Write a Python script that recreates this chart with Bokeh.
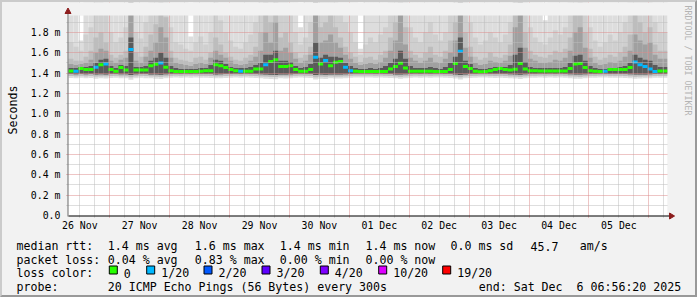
import math
from bokeh.plotting import figure
from bokeh.layouts import column, row
from bokeh.models import ColumnDataSource, Range1d, FixedTicker, Spacer
from bokeh.core.properties import value
from bokeh.embed import file_html
from bokeh.resources import INLINE

# ---------------- data (values in ms) ----------------
# 2-hour columns starting at the left edge of the graph (26 Nov ~07:29)
med = [1.421, 1.418, 1.444, 1.434, 1.434, 1.457, 1.483, 1.490, 1.434, 1.418,
       1.454, 1.431, 1.631, 1.431, 1.431, 1.431, 1.473, 1.486, 1.500, 1.457,
       1.424, 1.415, 1.415, 1.415, 1.415, 1.415, 1.419, 1.424, 1.424, 1.483,
       1.473, 1.454, 1.434, 1.424, 1.419, 1.418, 1.418, 1.441, 1.441, 1.483,
       1.513, 1.532, 1.464, 1.464, 1.473, 1.434, 1.418, 1.418, 1.434, 1.555,
       1.490, 1.523, 1.473, 1.506, 1.513, 1.457, 1.424, 1.418, 1.415, 1.415,
       1.415, 1.415, 1.415, 1.415, 1.441, 1.464, 1.496, 1.451, 1.418, 1.418,
       1.418, 1.418, 1.418, 1.415, 1.415, 1.415, 1.434, 1.493, 1.614, 1.464,
       1.444, 1.419, 1.412, 1.415, 1.424, 1.434, 1.444, 1.434, 1.431, 1.437,
       1.493, 1.441, 1.424, 1.424, 1.421, 1.421, 1.421, 1.421, 1.421, 1.421,
       1.444, 1.490, 1.493, 1.454, 1.424, 1.418, 1.415, 1.419, 1.434, 1.434,
       1.434, 1.434, 1.454, 1.508, 1.483, 1.464, 1.441, 1.415, 1.421, 1.421]

loss = [0, 1, 0, 0, 0, 1, 0, 1, 0, 0,
        0, 0, 1, 0, 0, 0, 0, 0, 1, 0,
        0, 0, 0, 0, 0, 0, 0, 0, 0, 0,
        0, 0, 0, 0, 1, 0, 0, 0, 0, 1,
        0, 0, 0, 0, 0, 0, 0, 0, 0, 1,
        0, 1, 0, 0, 0, 1, 1, 0, 0, 0,
        0, 0, 0, 0, 0, 0, 0, 0, 0, 0,
        0, 0, 0, 0, 0, 0, 0, 0, 1, 0,
        0, 0, 0, 0, 0, 0, 0, 0, 0, 0,
        0, 0, 0, 0, 0, 0, 0, 0, 0, 0,
        0, 0, 0, 0, 0, 0, 0, 1, 0, 0,
        0, 0, 0, 1, 1, 1, 1, 1, 0, 0]

# smoke: upper bounds of the nested ping bands (outermost first)
u1 = [2.2, 2.2, 1.72, 2.2, 2.2, 2.2, 2.2, 2.2, 2.2, 2.2,
      2.2, 2.2, 2.2, 2.2, 2.2, 2.2, 2.2, 2.2, 2.2, 2.2,
      2.2, 2.2, 2.2, 2.2, 1.76, 2.2, 2.2, 2.2, 2.2, 2.2,
      2.2, 2.2, 2.2, 2.2, 2.2, 2.2, 2.2, 2.2, 2.2, 2.2,
      2.2, 2.2, 2.2, 2.2, 2.2, 2.2, 1.85, 2.2, 2.2, 2.2,
      2.2, 2.2, 2.2, 2.2, 2.2, 2.2, 2.2, 2.2, 1.64, 2.2,
      2.2, 2.2, 2.2, 2.2, 2.2, 2.2, 2.2, 2.2, 2.2, 2.2,
      2.2, 2.2, 2.2, 2.2, 2.2, 2.2, 2.2, 2.2, 2.2, 2.2,
      2.2, 2.2, 2.2, 2.2, 2.2, 2.2, 2.2, 2.2, 2.2, 2.2,
      2.2, 2.2, 2.2, 2.2, 2.2, 1.92, 2.2, 2.2, 2.2, 2.2,
      2.2, 2.2, 2.2, 2.2, 2.2, 2.2, 2.2, 2.2, 2.2, 2.2,
      2.2, 2.2, 2.2, 2.2, 2.2, 2.2, 2.2, 2.2, 2.2, 2.2]
u2 = [1.70, 1.66, 1.62, 1.78, 1.85, 2.2, 2.2, 2.0, 1.80, 1.70,
      1.75, 1.85, 2.2, 1.80, 1.74, 1.90, 2.2, 2.2, 2.2, 2.2,
      1.85, 1.70, 1.68, 1.64, 1.62, 1.70, 1.76, 1.68, 1.80, 2.1,
      1.92, 1.80, 1.72, 1.66, 1.64, 1.70, 1.78, 1.90, 2.2, 2.2,
      2.2, 2.2, 2.1, 2.2, 2.0, 1.80, 1.68, 1.75, 1.90, 2.2,
      2.2, 2.2, 2.2, 2.1, 2.0, 1.90, 1.80, 1.70, 1.58, 1.68,
      1.75, 1.70, 1.78, 1.85, 2.1, 2.2, 2.2, 2.1, 1.85, 1.75,
      1.70, 1.80, 1.90, 1.78, 1.72, 1.80, 2.0, 2.2, 2.2, 2.1,
      1.90, 1.75, 1.68, 1.72, 1.80, 1.75, 1.70, 1.78, 1.90, 2.2,
      2.2, 2.1, 1.85, 1.75, 1.70, 1.68, 1.75, 1.82, 1.78, 1.85,
      2.1, 2.2, 2.2, 2.1, 1.85, 1.72, 1.66, 1.70, 1.78, 1.72,
      1.80, 1.90, 2.2, 2.2, 2.2, 2.1, 2.2, 1.90, 1.80, 1.80]
u3 = [1.54, 1.52, 1.52, 1.56, 1.62, 1.75, 1.80, 1.70, 1.58, 1.55,
      1.58, 1.62, 2.2, 1.60, 1.56, 1.66, 1.78, 1.88, 2.1, 1.95,
      1.62, 1.55, 1.53, 1.52, 1.51, 1.55, 1.56, 1.53, 1.60, 1.75,
      1.68, 1.60, 1.56, 1.53, 1.52, 1.55, 1.58, 1.66, 1.80, 2.1,
      1.90, 2.2, 1.75, 1.80, 1.70, 1.60, 1.55, 1.58, 1.66, 2.2,
      1.85, 1.90, 2.0, 1.85, 1.75, 1.66, 1.60, 1.56, 1.51, 1.55,
      1.56, 1.53, 1.58, 1.62, 1.75, 1.90, 2.2, 1.85, 1.62, 1.58,
      1.55, 1.60, 1.66, 1.58, 1.56, 1.62, 1.72, 1.90, 2.2, 1.80,
      1.66, 1.56, 1.53, 1.55, 1.60, 1.56, 1.55, 1.58, 1.68, 2.1,
      2.2, 1.80, 1.62, 1.58, 1.56, 1.55, 1.58, 1.62, 1.60, 1.64,
      1.75, 2.0, 2.1, 1.80, 1.64, 1.56, 1.53, 1.55, 1.58, 1.56,
      1.60, 1.66, 1.78, 2.0, 1.90, 1.80, 1.85, 1.68, 1.62, 1.62]
u4 = [1.49, 1.48, 1.49, 1.50, 1.53, 1.60, 1.64, 1.62, 1.52, 1.50,
      1.53, 1.55, 2.2, 1.52, 1.50, 1.56, 1.62, 1.70, 1.85, 1.75,
      1.55, 1.50, 1.49, 1.48, 1.47, 1.49, 1.50, 1.49, 1.55, 1.62,
      1.58, 1.55, 1.52, 1.49, 1.48, 1.49, 1.52, 1.56, 1.62, 1.80,
      1.70, 1.90, 1.62, 1.65, 1.60, 1.54, 1.50, 1.52, 1.58, 2.2,
      1.70, 1.72, 1.78, 1.70, 1.65, 1.58, 1.54, 1.50, 1.48, 1.49,
      1.50, 1.49, 1.51, 1.55, 1.62, 1.72, 2.0, 1.68, 1.55, 1.52,
      1.50, 1.52, 1.55, 1.51, 1.50, 1.54, 1.60, 1.72, 2.2, 1.65,
      1.56, 1.50, 1.48, 1.49, 1.52, 1.51, 1.50, 1.52, 1.57, 1.85,
      2.1, 1.65, 1.54, 1.52, 1.50, 1.50, 1.51, 1.53, 1.52, 1.55,
      1.62, 1.80, 1.85, 1.65, 1.55, 1.50, 1.48, 1.49, 1.51, 1.50,
      1.52, 1.56, 1.62, 1.78, 1.72, 1.68, 1.70, 1.58, 1.54, 1.54]
u5 = [1.45, 1.45, 1.46, 1.46, 1.47, 1.50, 1.53, 1.54, 1.47, 1.45,
      1.48, 1.47, 1.75, 1.46, 1.46, 1.47, 1.52, 1.55, 1.60, 1.55,
      1.47, 1.45, 1.44, 1.44, 1.44, 1.44, 1.45, 1.45, 1.48, 1.53,
      1.52, 1.49, 1.46, 1.45, 1.45, 1.45, 1.46, 1.48, 1.50, 1.58,
      1.58, 1.62, 1.52, 1.52, 1.51, 1.47, 1.45, 1.46, 1.49, 1.70,
      1.55, 1.58, 1.56, 1.56, 1.55, 1.50, 1.47, 1.45, 1.44, 1.44,
      1.45, 1.44, 1.45, 1.47, 1.50, 1.54, 1.62, 1.54, 1.47, 1.45,
      1.45, 1.45, 1.46, 1.45, 1.44, 1.46, 1.50, 1.56, 1.75, 1.52,
      1.49, 1.45, 1.44, 1.44, 1.45, 1.46, 1.46, 1.46, 1.48, 1.58,
      1.65, 1.51, 1.46, 1.45, 1.45, 1.45, 1.45, 1.45, 1.45, 1.46,
      1.50, 1.57, 1.58, 1.52, 1.47, 1.45, 1.44, 1.44, 1.45, 1.45,
      1.46, 1.47, 1.50, 1.58, 1.55, 1.53, 1.52, 1.48, 1.46, 1.46]
# smoke: lower bounds (outermost first)
lo1 = [1.352, 1.350, 1.355, 1.348, 1.352, 1.345, 1.350, 1.347, 1.352, 1.355,
       1.350, 1.348, 1.335, 1.350, 1.353, 1.350, 1.348, 1.345, 1.342, 1.350,
       1.355, 1.356, 1.354, 1.357, 1.355, 1.356, 1.353, 1.355, 1.352, 1.348,
       1.350, 1.352, 1.355, 1.356, 1.354, 1.356, 1.355, 1.352, 1.350, 1.345,
       1.342, 1.340, 1.348, 1.347, 1.350, 1.354, 1.356, 1.355, 1.352, 1.338,
       1.345, 1.343, 1.348, 1.346, 1.347, 1.350, 1.353, 1.356, 1.357, 1.356,
       1.357, 1.355, 1.356, 1.354, 1.352, 1.348, 1.344, 1.350, 1.354, 1.356,
       1.355, 1.356, 1.354, 1.356, 1.357, 1.355, 1.352, 1.346, 1.338, 1.348,
       1.352, 1.355, 1.357, 1.356, 1.354, 1.352, 1.353, 1.352, 1.350, 1.346,
       1.342, 1.350, 1.354, 1.355, 1.356, 1.355, 1.356, 1.355, 1.356, 1.354,
       1.350, 1.345, 1.344, 1.349, 1.353, 1.355, 1.357, 1.356, 1.354, 1.353,
       1.354, 1.352, 1.350, 1.344, 1.346, 1.348, 1.350, 1.355, 1.354, 1.354]
lo2 = [1.372, 1.370, 1.374, 1.369, 1.371, 1.366, 1.370, 1.368, 1.372, 1.374,
       1.370, 1.369, 1.360, 1.370, 1.373, 1.371, 1.368, 1.366, 1.364, 1.370,
       1.374, 1.375, 1.374, 1.376, 1.375, 1.375, 1.373, 1.374, 1.372, 1.368,
       1.370, 1.372, 1.374, 1.375, 1.374, 1.375, 1.374, 1.372, 1.370, 1.366,
       1.364, 1.362, 1.368, 1.368, 1.370, 1.373, 1.375, 1.374, 1.372, 1.360,
       1.366, 1.364, 1.368, 1.366, 1.367, 1.370, 1.373, 1.375, 1.376, 1.375,
       1.376, 1.374, 1.375, 1.374, 1.372, 1.368, 1.365, 1.370, 1.374, 1.375,
       1.374, 1.375, 1.374, 1.375, 1.376, 1.374, 1.372, 1.366, 1.360, 1.368,
       1.372, 1.374, 1.376, 1.375, 1.374, 1.372, 1.373, 1.372, 1.370, 1.366,
       1.363, 1.370, 1.373, 1.374, 1.375, 1.374, 1.375, 1.374, 1.375, 1.374,
       1.370, 1.366, 1.365, 1.369, 1.373, 1.374, 1.376, 1.375, 1.373, 1.373,
       1.374, 1.372, 1.370, 1.365, 1.367, 1.368, 1.370, 1.374, 1.374, 1.374]
lo3 = [1.390, 1.389, 1.392, 1.388, 1.390, 1.386, 1.389, 1.387, 1.390, 1.391,
       1.389, 1.388, 1.380, 1.389, 1.391, 1.390, 1.387, 1.386, 1.384, 1.389,
       1.392, 1.393, 1.392, 1.393, 1.392, 1.393, 1.391, 1.392, 1.390, 1.387,
       1.389, 1.390, 1.392, 1.393, 1.392, 1.393, 1.392, 1.390, 1.389, 1.385,
       1.384, 1.382, 1.387, 1.387, 1.389, 1.391, 1.393, 1.392, 1.390, 1.380,
       1.386, 1.384, 1.387, 1.386, 1.386, 1.389, 1.391, 1.393, 1.394, 1.393,
       1.394, 1.392, 1.393, 1.392, 1.390, 1.387, 1.385, 1.389, 1.392, 1.393,
       1.392, 1.393, 1.392, 1.393, 1.394, 1.392, 1.390, 1.386, 1.380, 1.387,
       1.390, 1.392, 1.394, 1.393, 1.392, 1.390, 1.391, 1.390, 1.389, 1.386,
       1.383, 1.389, 1.391, 1.392, 1.393, 1.392, 1.393, 1.392, 1.393, 1.392,
       1.389, 1.386, 1.385, 1.388, 1.391, 1.392, 1.394, 1.393, 1.391, 1.391,
       1.392, 1.390, 1.389, 1.385, 1.386, 1.387, 1.389, 1.392, 1.392, 1.392]

day_labels = ["26 Nov", "27 Nov", "28 Nov", "29 Nov", "30 Nov",
              "01 Dec", "02 Dec", "03 Dec", "04 Dec", "05 Dec"]
y_ticks = [0.0, 0.2, 0.4, 0.6, 0.8, 1.0, 1.2, 1.4, 1.6, 1.8]
y_labels = ["0.0", "0.2 m", "0.4 m", "0.6 m", "0.8 m", "1.0 m",
            "1.2 m", "1.4 m", "1.6 m", "1.8 m"]

loss_levels = [0, 1, 2, 3, 4, 10, 19]
loss_names = ["0", "1/20", "2/20", "3/20", "4/20", "10/20", "19/20"]
loss_colors = ["#26ff00", "#00b8ff", "#0059ff", "#5e00ff", "#7e00ff",
               "#dd00ff", "#ff0000"]

stats_rtt = ["1.4 ms avg", "1.6 ms max", "1.4 ms min", "1.4 ms now",
             "0.0 ms sd", "45.7", "am/s"]
stats_loss = ["0.04 % avg", "0.83 % max", "0.00 % min", "0.00 % now"]
probe_text = "20 ICMP Echo Pings (56 Bytes) every 300s"
end_text = "end: Sat Dec\u00a0 6 06:56:20 2025"
watermark = "RRDTOOL / TOBI OETIKER"

# ---------------- layout constants (canvas pixels) ----------------
W, H = 697, 297
BW = 2                       # bevel border width (CSS)
PL, PT, PR, PB = 67, 15, 667, 215   # plot area on the canvas
TOP_H = 233                  # canvas row where the legend panel starts
T0 = 7.48                    # hours after 26 Nov 00:00 at the left edge
SPAN = 240.0                 # 10 days
STEP = 2.0
Y_MAX = 1.966
PXH = (PR - PL) / SPAN       # px per hour
PXY = (PB - PT) / Y_MAX      # px per ms
MONO = "DejaVu Sans Mono"
BACK = "#F2F2F2"


def xd(cx):
    return T0 + (cx - PL) / PXH


def yd(cy):
    return (PB - cy) / PXY


n = len(med)
left = [T0 + STEP * i for i in range(n)]
right = [T0 + STEP * (i + 1) for i in range(n)]
lc = dict(zip(loss_levels, loss_colors))
half = 1.5 / PXY
src = ColumnDataSource(dict(
    left=left, right=right, med=med,
    mlo=[m - half for m in med], mhi=[m + half for m in med],
    mcol=[lc[l] for l in loss],
    u1=u1, u2=u2, u3=u3, u4=u4, u5=u5, lo1=lo1, lo2=lo2, lo3=lo3))

# frame: canvas x 65..695, y 2..217
FX0, FX1, FY0, FY1 = 65, W - BW, BW, 217
p = figure(width=W - 2 * BW, height=TOP_H - BW,
           output_backend="svg", toolbar_location=None, title=None,
           x_range=Range1d(xd(FX0), xd(FX1)), y_range=Range1d(yd(FY1), yd(FY0)),
           min_border_left=FX0 - BW, min_border_right=0,
           min_border_top=0, min_border_bottom=TOP_H - FY1,
           background_fill_color=BACK, border_fill_color=BACK,
           outline_line_color=None)

# white canvas of the graph
p.quad(left=[T0], right=[T0 + SPAN], bottom=[0], top=[Y_MAX],
       fill_color="white", line_color=None, level="image")

# smoke bands (nested, darker toward the median)
bands = [("lo1", "u1", "#DDDDDD"), ("lo2", "u2", "#CFCFCF"),
         ("lo2", "u3", "#BDBDBD"), ("lo3", "u4", "#A0A0A0"),
         ("lo3", "u5", "#5A5A5A")]
for b, t, c in bands:
    p.quad(left="left", right="right", bottom=b, top=t, source=src,
           fill_color=c, line_color=None)
# median, coloured by loss
p.quad(left="left", right="right", bottom="mlo", top="mhi", source=src,
       fill_color="mcol", line_color=None)

# ---------------- axes & grid ----------------
noons = [12 + 24 * k for k in range(len(day_labels))]
midnights = [24 * k for k in range(1, 11)]
sixes = [6 * k for k in range(1, 42) if (6 * k) % 24 != 0 and T0 < 6 * k < T0 + SPAN]
y_minor = [0.1, 0.3, 0.5, 0.7, 0.9, 1.1, 1.3, 1.5, 1.7, 1.9]

xa = p.xaxis[0]
xa.ticker = FixedTicker(ticks=noons, minor_ticks=[])
xa.major_label_overrides = {t: l for t, l in zip(noons, day_labels)}
xa.axis_line_color = None
xa.major_tick_line_color = None
xa.minor_tick_line_color = None
xa.major_tick_out = 0
xa.major_tick_in = 0
xa.minor_tick_out = 0
xa.minor_tick_in = 0
xa.major_label_standoff = 2
xa.major_label_text_font = MONO
xa.major_label_text_font_size = "9.9px"
xa.major_label_text_color = "#000000"

ya = p.yaxis[0]
ya.ticker = FixedTicker(ticks=y_ticks, minor_ticks=[])
ya.major_label_overrides = {t: l for t, l in zip(y_ticks, y_labels)}
ya.axis_line_color = None
ya.major_tick_line_color = None
ya.minor_tick_line_color = None
ya.major_tick_out = 0
ya.major_tick_in = 0
ya.minor_tick_out = 0
ya.minor_tick_in = 0
ya.major_label_standoff = 6
ya.major_label_text_font = MONO
ya.major_label_text_font_size = "9.9px"
ya.major_label_text_color = "#000000"
ya.axis_label = "Seconds"
ya.axis_label_text_font = MONO
ya.axis_label_text_font_size = "11.6px"
ya.axis_label_text_font_style = "normal"
ya.axis_label_text_color = "#000000"
ya.axis_label_standoff = 8

for g, maj, mnr in ((p.xgrid[0], midnights, sixes), (p.ygrid[0], y_ticks[1:], y_minor)):
    g.ticker = FixedTicker(ticks=maj, minor_ticks=mnr)
    g.grid_line_color = "#DC8A8A"
    g.grid_line_dash = "1 1"
    g.grid_line_width = 1
    g.minor_grid_line_color = "#BDBDBD"
    g.minor_grid_line_dash = "1 1"
    g.minor_grid_line_width = 1
    g.level = "guide"

# background outside the graph area (hides grid overshoot)
p.quad(left=[xd(FX0)], right=[xd(FX1)], bottom=[Y_MAX], top=[yd(FY0)],
       fill_color=BACK, line_color=None, level="overlay")
p.quad(left=[T0 + SPAN], right=[xd(FX1)], bottom=[yd(FY1)], top=[yd(FY0)],
       fill_color=BACK, line_color=None, level="overlay")

# axis lines with arrow heads
p.segment(x0=[xd(PL)], y0=[yd(PB + 0.5)], x1=[xd(670)], y1=[yd(PB + 0.5)],
          line_color="#000000", line_width=1, level="overlay")
p.segment(x0=[xd(PL - 0.5)], y0=[yd(PB + 1)], x1=[xd(PL - 0.5)], y1=[yd(11)],
          line_color="#6E6E6E", line_width=1, level="overlay")
p.patch(x=[xd(669), xd(674), xd(669)], y=[yd(212.5), yd(215.5), yd(218.5)],
        fill_color="#8C1C1C", line_color="#8C1C1C", level="overlay")
p.patch(x=[xd(63.5), xd(66.5), xd(69.5)], y=[yd(13), yd(7.5), yd(13)],
        fill_color="#8C1C1C", line_color="#8C1C1C", level="overlay")

# watermark
p.text(x=[xd(687)], y=[yd(5)], text=[watermark], angle=-math.pi / 2,
       text_font=value(MONO), text_font_size=value("8.3px"),
       text_color="#B4B4B4", text_align="left", text_baseline="middle",
       level="overlay")

# ---------------- legend panel ----------------
# (shifted by one pixel so that its frame is not aligned with the graph frame)
QX0 = BW + 1
q = figure(width=W - BW - QX0, height=H - TOP_H - BW,
           output_backend="svg", toolbar_location=None, title=None,
           x_axis_type=None, y_axis_type=None,
           x_range=Range1d(QX0, W - BW), y_range=Range1d(H - BW, TOP_H),
           min_border=0, min_border_left=0, min_border_right=0,
           min_border_top=0, min_border_bottom=0,
           background_fill_color=BACK, border_fill_color=BACK,
           outline_line_color=None)

col_x = [107.3, 194.3, 279.3, 365.0, 450.0, 530.0, 579.3]
base = [245.5, 259.2, 272.9, 286.6]
tx, ty, tt = [], [], []


def put(x, y, s):
    tx.append(x)
    ty.append(y)
    tt.append(s)


put(16, base[0], "median rtt:")
for x, s in zip(col_x, stats_rtt):
    put(x, base[0], s)
put(16, base[1], "packet loss:")
for x, s in zip(col_x, stats_loss):
    put(x, base[1], s)
put(16, base[2], "loss color:")
box_x = [108.3, 145.7, 203.0, 261.0, 319.3, 377.7, 441.7]
for x, name in zip(box_x, loss_names):
    put(x + 15, base[2], name)
put(16, base[3], "probe:")
put(107.3, base[3], probe_text)
put(478.3, base[3], end_text)

q.text(x=tx, y=ty, text=tt, text_font=value(MONO), text_font_size=value("11.6px"),
       text_color="#000000", text_align="left", text_baseline="alphabetic")
q.quad(left=[x + 0.5 for x in box_x], right=[x + 8.5 for x in box_x],
       top=[265.5] * len(box_x), bottom=[273.5] * len(box_x),
       fill_color=loss_colors, line_color="#000000", line_width=1)

bottom_row = row(Spacer(width=QX0 - BW, height=H - TOP_H - BW), q, spacing=0)
layout = column(p, bottom_row, spacing=0, styles={
    "border-style": "solid",
    "border-width": f"{BW}px",
    "border-color": "#CBCBCB #999999 #999999 #CBCBCB",
    "box-sizing": "content-box",
    "background-color": BACK,
})

open("out.html", "w").write(file_html(layout, INLINE))
